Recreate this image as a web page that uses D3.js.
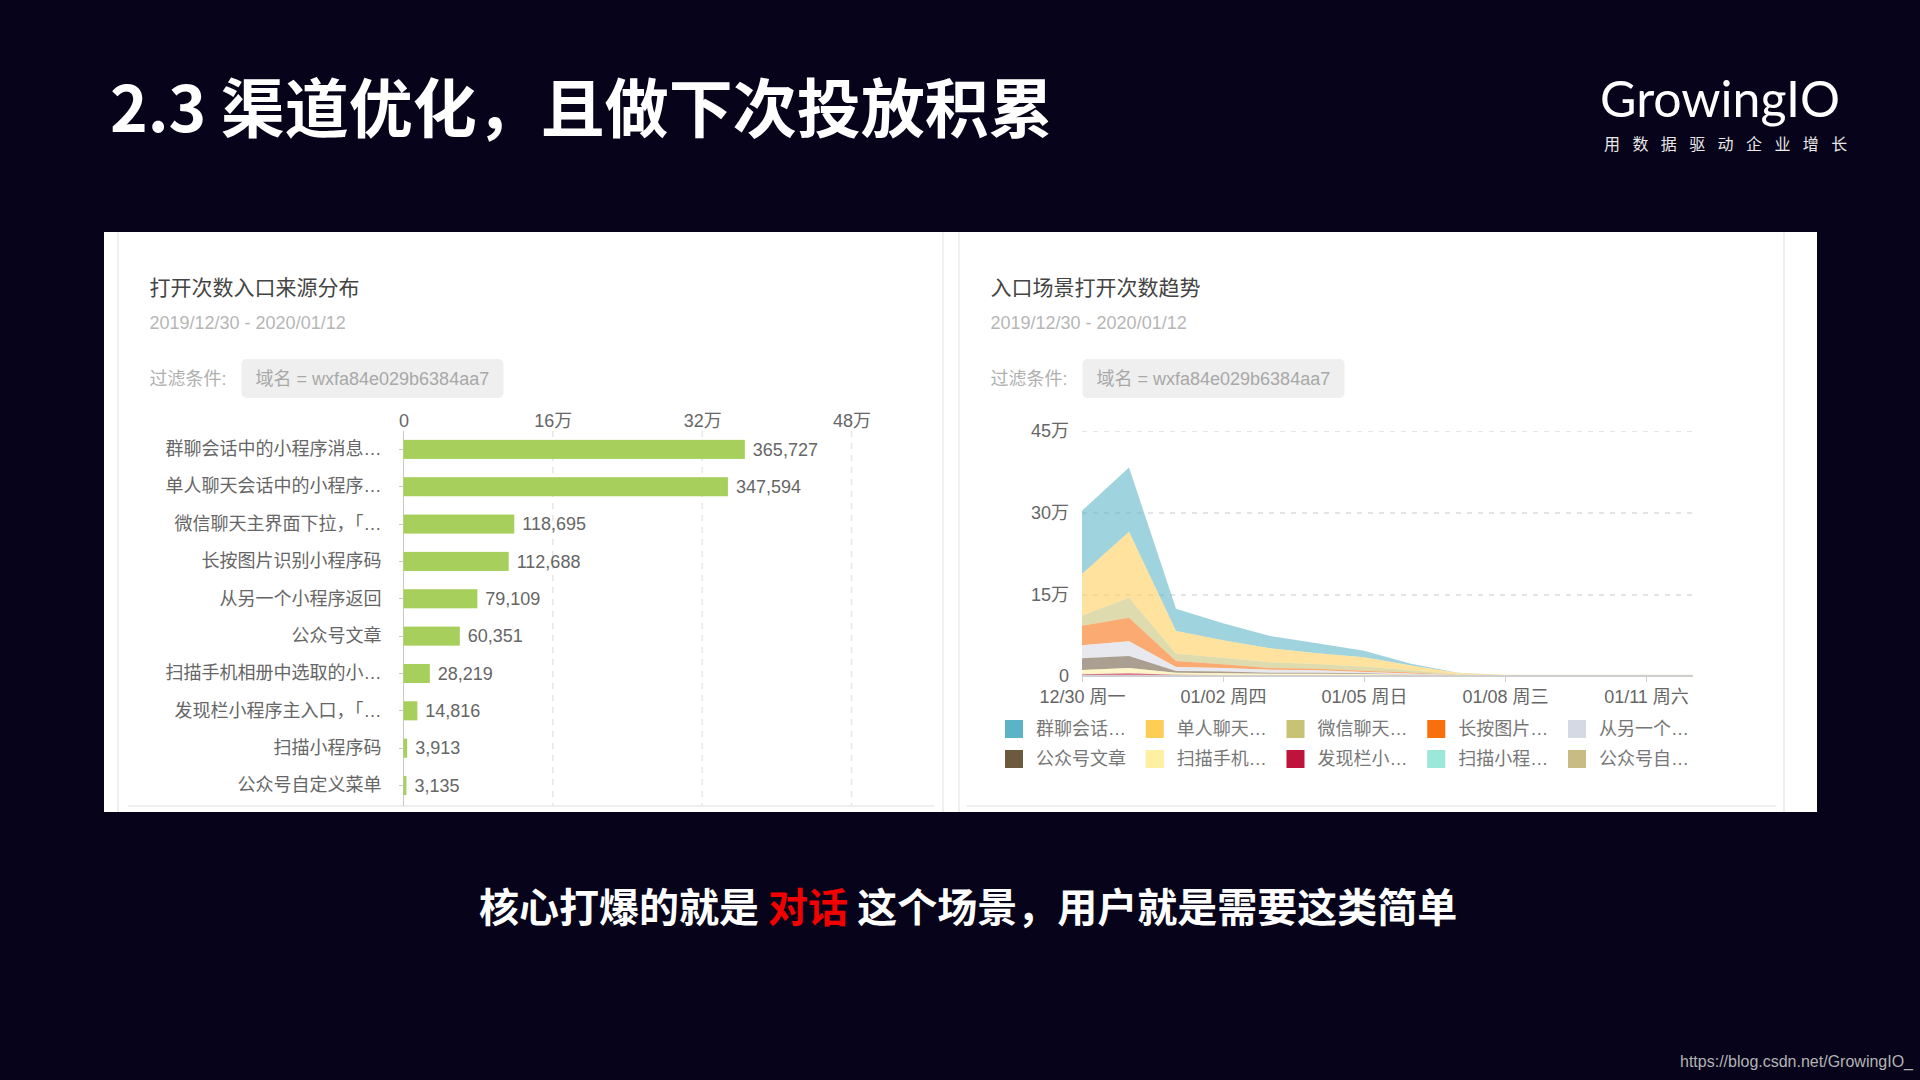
<!DOCTYPE html>
<html>
<head>
<meta charset="utf-8">
<script src="https://cdn.jsdelivr.net/npm/d3@7"></script>
<style>
    html, body { margin: 0; padding: 0; background: #06031a; }
    svg { display: block; }
    text { font-family: "Liberation Sans", "Noto Sans CJK SC", sans-serif; }
    .cjk { font-family: "Noto Sans CJK SC", sans-serif; }
    .axis path, .axis line { shape-rendering: crispEdges; }
</style>
</head>
<body>
<svg id="slide" width="1920" height="1080"></svg>
<script>
    // left chart
    var barCategories = ['群聊会话中的小程序消息…', '单人聊天会话中的小程序…', '微信聊天主界面下拉，「…', '长按图片识别小程序码',
        '从另一个小程序返回', '公众号文章', '扫描手机相册中选取的小…', '发现栏小程序主入口，「…', '扫描小程序码', '公众号自定义菜单'];
    var barValues = [365727, 347594, 118695, 112688, 79109, 60351, 28219, 14816, 3913, 3135];
    var barTicks = [0, 160000, 320000, 480000];
    var barTickLabels = ['0', '16万', '32万', '48万'];

    // right chart, one list per entry source, 12/30 to 01/12
    var groupChat = [116300, 118100, 41000, 31000, 22600, 18400, 12200, 3400, 600, 200, 100, 100, 100, 100];
    var singleChat = [76500, 121200, 41600, 32000, 25700, 19600, 17200, 8600, 2600, 300, 200, 200, 200, 200];
    var wechatPull = [18400, 36700, 13500, 12000, 10400, 8500, 7300, 4300, 1200, 700, 800, 1500, 1500, 1500];
    var longPress = [36100, 43500, 11000, 7000, 3100, 3100, 2500, 1800, 400, 200, 100, 100, 100, 100];
    var otherApp = [23900, 26900, 7300, 6500, 5500, 4300, 2400, 1500, 300, 100, 100, 100, 100, 100];
    var officialArticle = [21400, 22000, 3100, 3000, 1900, 2100, 1300, 800, 200, 100, 100, 100, 100, 100];
    var albumScan = [8000, 9800, 3700, 3300, 2200, 2000, 1800, 1000, 200, 100, 100, 100, 100, 100];
    var discoverBar = [1800, 3500, 1800, 1300, 1500, 1500, 1300, 800, 300, 600, 800, 100, 100, 100];
    var codeScan = [600, 800, 400, 400, 300, 300, 300, 200, 100, 100, 100, 100, 100, 100];
    var officialMenu = [600, 600, 200, 200, 200, 200, 200, 100, 100, 100, 100, 100, 100, 100];

    var areaSeries = [groupChat, singleChat, wechatPull, longPress, otherApp, officialArticle, albumScan, discoverBar, codeScan, officialMenu];
    var areaLegend = ['群聊会话…', '单人聊天…', '微信聊天…', '长按图片…', '从另一个…', '公众号文章', '扫描手机…', '发现栏小…', '扫描小程…', '公众号自…'];
    var areaColors = ['#5ab4c6', '#fdcd56', '#c7c274', '#f86f0c', '#d5d9e3', '#6c5a3f', '#fdf0a0', '#bf133c', '#9ce8d8', '#c9bb84'];
    var areaTickDays = [0, 3, 6, 9, 12];
    var areaTickLabels = ['12/30 周一', '01/02 周四', '01/05 周日', '01/08 周三', '01/11 周六'];
    var areaYTicks = [0, 150000, 300000, 450000];
    var areaYLabels = ['0', '15万', '30万', '45万'];

    var svg = d3.select('#slide');

    // slide text around the charts
    svg.append('text').attr('class', 'cjk')
        .attr('x', 110).attr('y', 132)
        .attr('font-size', 64).attr('font-weight', 700).attr('fill', '#fff')
        .text('2.3 渠道优化，且做下次投放积累');

    svg.append('text')
        .attr('x', 1600).attr('y', 117)
        .style('font-family', 'Lato, sans-serif')
        .attr('font-size', 50).attr('font-weight', 400).attr('fill', '#fff')
        .text('GrowingIO');

    svg.append('text').attr('class', 'cjk')
        .attr('x', 1604).attr('y', 150)
        .attr('font-size', 16).attr('fill', '#e8e8e8')
        .style('letter-spacing', '12.4px')
        .text('用数据驱动企业增长');

    var caption = svg.append('text').attr('class', 'cjk')
        .attr('x', 479).attr('y', 922)
        .attr('font-size', 40).attr('font-weight', 700).attr('fill', '#fff');
    caption.append('tspan').text('核心打爆的就是 ');
    caption.append('tspan').attr('fill', '#f30000').text('对话');
    caption.append('tspan').text(' 这个场景，用户就是需要这类简单');

    svg.append('text')
        .attr('x', 1680).attr('y', 1067)
        .attr('font-size', 16).attr('fill', '#b4b4b4')
        .text('https://blog.csdn.net/GrowingIO_');

    // white sheet with the two card outlines
    svg.append('rect').attr('x', 104).attr('y', 232).attr('width', 1713).attr('height', 580).attr('fill', '#fff');

    [118, 943, 959, 1784].forEach(function (x) {
        svg.append('line').attr('x1', x).attr('x2', x).attr('y1', 232).attr('y2', 812)
            .attr('stroke', '#efefef').attr('stroke-width', 2);
    });
    [[128, 934], [967, 1776]].forEach(function (d) {
        svg.append('line').attr('x1', d[0]).attr('x2', d[1]).attr('y1', 806).attr('y2', 806)
            .attr('stroke', '#efefef').attr('stroke-width', 2);
    });

    /**
     * Card heading: title, date range and filter chip
     */
    function drawHeading(x, title) {
        svg.append('text').attr('class', 'cjk')
            .attr('x', x).attr('y', 295)
            .attr('font-size', 21).attr('fill', '#444')
            .text(title);
        svg.append('text')
            .attr('x', x).attr('y', 329)
            .attr('font-size', 18).attr('fill', '#b6b6b6')
            .text('2019/12/30 - 2020/01/12');
        svg.append('text')
            .attr('x', x).attr('y', 385)
            .attr('font-size', 18).attr('fill', '#b0b0b0')
            .text('过滤条件:');
        svg.append('rect')
            .attr('x', x + 92).attr('y', 359).attr('width', 262).attr('height', 39).attr('rx', 5)
            .attr('fill', '#efefef');
        svg.append('text')
            .attr('x', x + 106).attr('y', 385)
            .attr('font-size', 18).attr('fill', '#a8a8a8')
            .text('域名 = wxfa84e029b6384aa7');
    }

    drawHeading(149.5, '打开次数入口来源分布');
    drawHeading(990.5, '入口场景打开次数趋势');

    // bar chart
    var barX = d3.scaleLinear().domain([0, 480000]).range([403.5, 851.5]);
    var barY = d3.scaleBand().domain(barCategories).range([430.7, 804.2]).paddingInner(0.49).paddingOuter(0.245);

    barTicks.forEach(function (t) {
        if (t === 0) { return; }
        svg.append('line')
            .attr('x1', barX(t)).attr('x2', barX(t)).attr('y1', 431).attr('y2', 806)
            .attr('stroke', '#e6e6e6').attr('stroke-dasharray', '6 6').attr('stroke-width', 1.5);
    });

    var barTop = svg.append('g').attr('class', 'axis')
        .attr('transform', 'translate(0,431)')
        .call(d3.axisTop(barX).tickValues(barTicks).tickSize(0).tickPadding(4)
            .tickFormat(function (d, i) { return barTickLabels[i]; }));
    barTop.select('.domain').remove();
    barTop.selectAll('text').attr('font-size', 18).attr('fill', '#666').style('font-family', null);

    var barLeft = svg.append('g').attr('class', 'axis')
        .attr('transform', 'translate(403.5,0)')
        .call(d3.axisLeft(barY).tickSize(5).tickPadding(17));
    barLeft.select('.domain').attr('d', 'M0,431V806').attr('stroke', '#c9c9c9').attr('stroke-width', 1.5);
    barLeft.selectAll('line').attr('stroke', '#c9c9c9');
    barLeft.selectAll('text').attr('font-size', 18).attr('fill', '#666').style('font-family', null);

    svg.append('g').selectAll('rect')
        .data(barValues)
        .enter()
        .append('rect')
            .attr('x', barX(0))
            .attr('y', function (d, i) { return barY(barCategories[i]); })
            .attr('width', function (d) { return barX(d) - barX(0); })
            .attr('height', barY.bandwidth())
            .attr('fill', '#a7cf5b');

    svg.append('g').selectAll('text')
        .data(barValues)
        .enter()
        .append('text')
            .attr('x', function (d) { return barX(d) + 8; })
            .attr('y', function (d, i) { return barY(barCategories[i]) + barY.bandwidth() / 2; })
            .attr('dy', '0.35em')
            .attr('font-size', 18)
            .attr('fill', '#666')
            .text(d3.format(','));

    // stacked area chart
    var days = d3.range(areaSeries[0].length);
    var areaX = d3.scaleLinear().domain([0, 13]).range([1082, 1693]);
    var areaY = d3.scaleLinear().domain([0, 450000]).range([676, 431]);

    var rows = days.map(function (day) {
        var row = {};
        areaSeries.forEach(function (values, i) { row[i] = values[day]; });
        return row;
    });

    // first series sits on top of the stack
    var stacked = d3.stack()
        .keys(d3.range(areaSeries.length))
        .order(d3.stackOrderReverse)(rows);

    var yAxis = svg.append('g').attr('class', 'axis')
        .attr('transform', 'translate(1082,0)')
        .call(d3.axisLeft(areaY).tickValues(areaYTicks).tickSize(-611).tickPadding(13)
            .tickFormat(function (d, i) { return areaYLabels[i]; }));
    yAxis.select('.domain').remove();
    yAxis.selectAll('line').attr('stroke', '#e4e4e4').attr('stroke-dasharray', '5 6').attr('stroke-width', 1.5);
    yAxis.selectAll('text').attr('font-size', 18).attr('fill', '#666').style('font-family', null);

    var area = d3.area()
        .x(function (d, i) { return areaX(i); })
        .y0(function (d) { return areaY(d[0]); })
        .y1(function (d) { return areaY(d[1]); });

    svg.append('g').selectAll('path')
        .data(stacked)
        .enter()
        .append('path')
            .attr('d', area)
            .attr('fill', function (d) { return areaColors[d.key]; })
            .attr('fill-opacity', 0.58);

    var xAxis = svg.append('g').attr('class', 'axis')
        .attr('transform', 'translate(0,676)')
        .call(d3.axisBottom(areaX).tickValues(areaTickDays).tickSize(6).tickPadding(8)
            .tickFormat(function (d, i) { return areaTickLabels[i]; }));
    xAxis.select('.domain').attr('d', 'M1082,0H1693').attr('stroke', '#cfcfcf').attr('stroke-width', 2);
    xAxis.selectAll('line').attr('stroke', '#cfcfcf');
    xAxis.selectAll('text').attr('font-size', 18).attr('fill', '#666').style('font-family', null);

    // legend, two rows of five
    var legendX = d3.scaleLinear().domain([0, 4]).range([1005, 1568]);
    var legendY = d3.scaleLinear().domain([0, 1]).range([729, 759]);

    var legend = svg.append('g').selectAll('g')
        .data(areaLegend)
        .enter()
        .append('g')
            .attr('transform', function (d, i) {
                return 'translate(' + legendX(i % 5) + ',' + legendY(Math.floor(i / 5)) + ')';
            });

    legend.append('rect')
        .attr('y', -9).attr('width', 18).attr('height', 18)
        .attr('fill', function (d, i) { return areaColors[i]; });

    legend.append('text')
        .attr('x', 31).attr('dy', '0.35em')
        .attr('font-size', 18).attr('fill', '#777')
        .text(function (d) { return d; });
</script>
</body>
</html>
